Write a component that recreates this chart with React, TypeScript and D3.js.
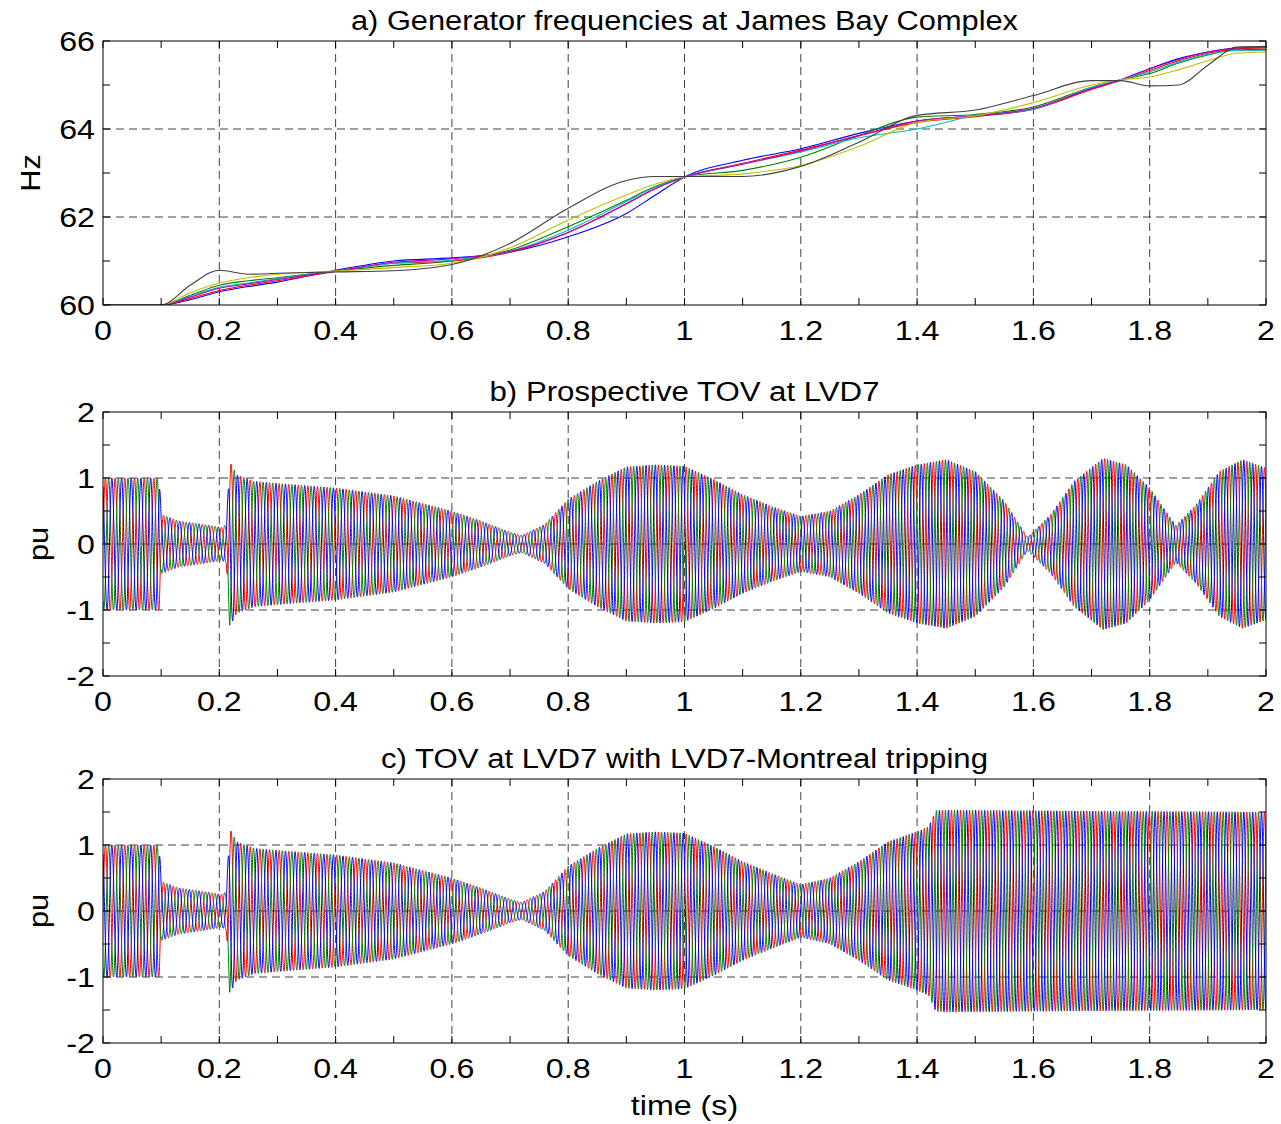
import React from 'react';
import * as d3 from 'd3';

// ---------- Panel a: generator frequencies (Hz) ----------
const freqTimes = [0, 0.1, 0.15, 0.2, 0.25, 0.3, 0.4, 0.5, 0.6, 0.7, 0.8, 0.9, 0.95, 1.0, 1.1, 1.2, 1.3, 1.4, 1.5, 1.6, 1.7, 1.75, 1.8, 1.85, 1.9, 1.95, 2.0];
const freqBlue = [60, 60, 60.12, 60.3, 60.42, 60.52, 60.79, 61.0, 61.07, 61.2, 61.55, 62.08, 62.5, 62.91, 63.29, 63.55, 63.9, 64.18, 64.3, 64.45, 64.92, 65.12, 65.37, 65.6, 65.75, 65.84, 65.86];
const freqGreen = [60, 60, 60.22, 60.45, 60.55, 60.62, 60.77, 60.9, 61.0, 61.25, 61.78, 62.38, 62.7, 62.91, 63.06, 63.36, 63.85, 64.27, 64.33, 64.5, 64.95, 65.12, 65.26, 65.5, 65.68, 65.8, 65.81];
const freqRed = [60, 60, 60.15, 60.33, 60.45, 60.55, 60.76, 60.95, 61.0, 61.2, 61.65, 62.3, 62.65, 62.91, 63.22, 63.52, 63.85, 64.15, 64.28, 64.45, 64.9, 65.1, 65.33, 65.55, 65.72, 65.82, 65.84];
const freqCyan = [60, 60, 60.2, 60.4, 60.5, 60.6, 60.78, 60.95, 61.02, 61.22, 61.7, 62.35, 62.68, 62.91, 63.2, 63.48, 63.8, 64.0, 64.3, 64.45, 64.95, 65.12, 65.3, 65.52, 65.7, 65.78, 65.79];
const freqMagenta = [60, 60, 60.18, 60.38, 60.48, 60.58, 60.77, 60.97, 61.05, 61.22, 61.65, 62.3, 62.65, 62.91, 63.2, 63.5, 63.85, 64.18, 64.3, 64.47, 64.92, 65.12, 65.37, 65.58, 65.75, 65.84, 65.86];
const freqYellow = [60, 60, 60.28, 60.5, 60.62, 60.7, 60.77, 60.85, 60.95, 61.3, 61.93, 62.5, 62.75, 62.91, 62.98, 63.17, 63.6, 64.15, 64.3, 64.6, 65.0, 65.12, 65.18, 65.35, 65.55, 65.72, 65.75];
const freqGray = [60, 60, 60.45, 60.79, 60.7, 60.72, 60.75, 60.78, 60.92, 61.4, 62.2, 62.83, 62.92, 62.92, 62.92, 63.15, 63.7, 64.31, 64.43, 64.76, 65.1, 65.1, 64.98, 65.0, 65.45, 65.86, 65.88];

const freqSeries = [
  { values: freqBlue, color: '#0000ff' },
  { values: freqGreen, color: '#008000' },
  { values: freqRed, color: '#ff0000' },
  { values: freqCyan, color: '#00bfbf' },
  { values: freqMagenta, color: '#bf00bf' },
  { values: freqYellow, color: '#bfbf00' },
  { values: freqGray, color: '#404040' },
];

// ---------- Panel b: prospective TOV envelope (pu) ----------
const envTimesB = [0, 0.097, 0.1, 0.13, 0.17, 0.205, 0.212, 0.218, 0.23, 0.26, 0.3, 0.4, 0.5, 0.6, 0.65, 0.7, 0.72, 0.76, 0.8, 0.85, 0.9, 0.95, 1.0, 1.05, 1.1, 1.15, 1.2, 1.25, 1.3, 1.35, 1.4, 1.45, 1.5, 1.55, 1.59, 1.63, 1.67, 1.72, 1.76, 1.8, 1.845, 1.88, 1.92, 1.96, 2.0];
const envAmpB = [1, 1, 0.45, 0.35, 0.3, 0.25, 0.3, 1.25, 1.05, 0.95, 0.92, 0.85, 0.73, 0.5, 0.35, 0.18, 0.13, 0.3, 0.68, 0.95, 1.17, 1.2, 1.18, 0.98, 0.75, 0.57, 0.42, 0.5, 0.75, 1.05, 1.2, 1.28, 1.1, 0.65, 0.1, 0.45, 0.95, 1.3, 1.2, 0.85, 0.28, 0.6, 1.1, 1.28, 1.15];

// ---------- Panel c: TOV with line tripping envelope (pu) ----------
const envTimesC = [0, 0.097, 0.1, 0.13, 0.17, 0.205, 0.212, 0.218, 0.23, 0.26, 0.3, 0.4, 0.5, 0.6, 0.65, 0.7, 0.72, 0.76, 0.8, 0.85, 0.9, 0.95, 1.0, 1.05, 1.1, 1.15, 1.2, 1.25, 1.3, 1.35, 1.4, 1.42, 1.432, 1.45, 1.6, 1.8, 2.0];
const envAmpC = [1, 1, 0.45, 0.35, 0.3, 0.25, 0.3, 1.25, 1.05, 0.95, 0.92, 0.85, 0.73, 0.5, 0.35, 0.18, 0.13, 0.3, 0.68, 0.95, 1.17, 1.2, 1.18, 0.98, 0.75, 0.57, 0.4, 0.5, 0.75, 1.05, 1.2, 1.28, 1.52, 1.53, 1.52, 1.51, 1.5];

const phaseColors = ['#ff0000', '#008000', '#0000ff'];
const phaseShifts = [0, -2 * Math.PI / 3, 2 * Math.PI / 3];

const xTicks = [0, 0.2, 0.4, 0.6, 0.8, 1, 1.2, 1.4, 1.6, 1.8, 2];
const xMinor = d3.range(0, 2.0001, 0.1);
const hzTicks = [60, 62, 64, 66];
const hzMinor = [60, 61, 62, 63, 64, 65, 66];
const puTicks = [-2, -1, 0, 1, 2];
const puMinor = [-2, -1.5, -1, -0.5, 0, 0.5, 1, 1.5, 2];

const titles = [
  'a) Generator frequencies at James Bay Complex',
  'b) Prospective TOV at LVD7',
  'c) TOV at LVD7 with LVD7-Montreal tripping',
];

const W = 1281;
const H = 1124;
const LEFT = 103;
const RIGHT = 1266;
const FONT = 'Liberation Sans, Arial, Helvetica, sans-serif';

const x = d3.scaleLinear().domain([0, 2]).range([LEFT, RIGHT]);

// mean frequency drives the carrier of the waveforms
const meanFreq = freqTimes.map((_, i) => d3.mean(freqSeries.map((s) => s.values[i])) as number);
const fScale = d3.scaleLinear().domain(freqTimes).range(meanFreq);

function buildWaves(envT: number[], envA: number[]) {
  const env = d3.scaleLinear().domain(envT).range(envA).clamp(true);
  const dt = 0.0002;
  const n = Math.round(2 / dt);
  const phases: number[] = [];
  let phi = 0;
  for (let i = 0; i <= n; i++) {
    phases.push(phi);
    phi += 2 * Math.PI * fScale(i * dt) * dt;
  }
  return phaseShifts.map((sh) =>
    phases.map((p, i) => {
      const t = i * dt;
      return [t, env(t) * Math.sin(p + sh)] as [number, number];
    })
  );
}

const wavesB = buildWaves(envTimesB, envAmpB);
const wavesC = buildWaves(envTimesC, envAmpC);

function Label({ x0, y0, text, anchor = 'middle', size = 28, sx = 1.15, rotate = 0 }: any) {
  return (
    <text
      transform={`translate(${x0},${y0}) rotate(${rotate}) scale(${sx},1)`}
      textAnchor={anchor}
      fontFamily={FONT}
      fontSize={size}
      fill="#000"
    >
      {text}
    </text>
  );
}

function Axes({ top, bottom, yDomain, yTicks, yMinor, yGrid, title, titleWidth, yLabel, children, id }: any) {
  const y = d3.scaleLinear().domain(yDomain).range([bottom, top]);
  const grid = '#000';
  return (
    <g>
      <defs>
        <clipPath id={id}>
          <rect x={LEFT} y={top} width={RIGHT - LEFT} height={bottom - top} />
        </clipPath>
      </defs>
      <rect x={LEFT} y={top} width={RIGHT - LEFT} height={bottom - top} fill="#fff" />
      {/* grid */}
      {xTicks.slice(1, -1).map((t) => (
        <line key={'gx' + t} x1={x(t)} x2={x(t)} y1={top} y2={bottom} stroke={grid} strokeOpacity={0.75} strokeDasharray="8,5" strokeWidth={1} />
      ))}
      {yGrid.map((v: number) => (
        <line key={'gy' + v} x1={LEFT} x2={RIGHT} y1={y(v)} y2={y(v)} stroke={grid} strokeOpacity={0.75} strokeDasharray="8,5" strokeWidth={1} />
      ))}
      <g clipPath={`url(#${id})`}>{children(y)}</g>
      {/* ticks */}
      {xMinor.map((t) => (
        <g key={'tx' + t}>
          <line x1={x(t)} x2={x(t)} y1={bottom} y2={bottom - 7} stroke="#000" />
          <line x1={x(t)} x2={x(t)} y1={top} y2={top + 7} stroke="#000" />
        </g>
      ))}
      {yMinor.map((v: number) => (
        <g key={'ty' + v}>
          <line x1={LEFT} x2={LEFT + 7} y1={y(v)} y2={y(v)} stroke="#000" />
          <line x1={RIGHT} x2={RIGHT - 7} y1={y(v)} y2={y(v)} stroke="#000" />
        </g>
      ))}
      <rect x={LEFT} y={top} width={RIGHT - LEFT} height={bottom - top} fill="none" stroke="#000" strokeWidth={1} />
      {/* tick labels */}
      {xTicks.map((t) => (
        <Label key={'lx' + t} x0={x(t)} y0={bottom + 35} text={String(t)} />
      ))}
      {yTicks.map((v: number) => (
        <Label key={'ly' + v} x0={95} y0={y(v) + 10} text={String(v)} anchor="end" />
      ))}
      <text
        x={(LEFT + RIGHT) / 2}
        y={top - 11}
        textAnchor="middle"
        fontFamily={FONT}
        fontSize={27}
        textLength={titleWidth}
        lengthAdjust="spacingAndGlyphs"
      >
        {title}
      </text>
      <Label x0={yLabel.x} y0={(top + bottom) / 2} text={yLabel.text} rotate={-90} sx={1.1} />
    </g>
  );
}

export default function App() {
  const freqLine = (y: any) =>
    d3
      .line<number>()
      .x((_, i) => x(freqTimes[i]))
      .y((d) => y(d))
      .curve(d3.curveMonotoneX);

  const waveLine = (y: any) =>
    d3
      .line<[number, number]>()
      .x((d) => x(d[0]))
      .y((d) => y(d[1]));

  return (
    <svg width={W} height={H} style={{ position: 'absolute', left: 0, top: 0, background: '#fff' }}>
      <rect x={0} y={0} width={W} height={H} fill="#fff" />
      <Axes
        id="clipA"
        top={41}
        bottom={305}
        yDomain={[60, 66]}
        yTicks={hzTicks}
        yMinor={hzMinor}
        yGrid={[62, 64]}
        title={titles[0]}
        titleWidth={667}
        yLabel={{ x: 40, text: 'Hz' }}
      >
        {(y: any) =>
          freqSeries.map((s, i) => (
            <path key={i} d={freqLine(y)(s.values) as string} fill="none" stroke={s.color} strokeWidth={1.1} />
          ))
        }
      </Axes>
      <Axes
        id="clipB"
        top={412}
        bottom={676}
        yDomain={[-2, 2]}
        yTicks={puTicks}
        yMinor={puMinor}
        yGrid={[-1, 0, 1]}
        title={titles[1]}
        titleWidth={390}
        yLabel={{ x: 48, text: 'pu' }}
      >
        {(y: any) =>
          wavesB.map((w, i) => (
            <path key={i} d={waveLine(y)(w) as string} fill="none" stroke={phaseColors[i]} strokeWidth={1} />
          ))
        }
      </Axes>
      <Axes
        id="clipC"
        top={779}
        bottom={1043}
        yDomain={[-2, 2]}
        yTicks={puTicks}
        yMinor={puMinor}
        yGrid={[-1, 0, 1]}
        title={titles[2]}
        titleWidth={607}
        yLabel={{ x: 48, text: 'pu' }}
      >
        {(y: any) =>
          wavesC.map((w, i) => (
            <path key={i} d={waveLine(y)(w) as string} fill="none" stroke={phaseColors[i]} strokeWidth={1} />
          ))
        }
      </Axes>
      <Label x0={(LEFT + RIGHT) / 2} y0={1115} text="time (s)" />
    </svg>
  );
}
